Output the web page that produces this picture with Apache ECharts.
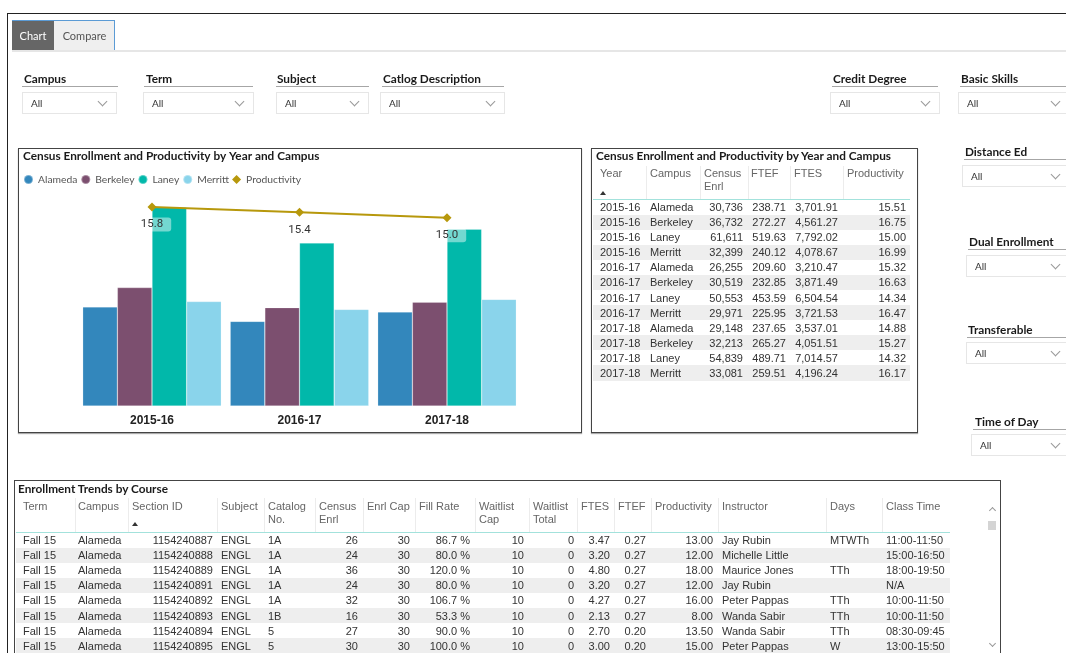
<!DOCTYPE html>
<html><head><meta charset="utf-8">
<script src="https://cdn.jsdelivr.net/npm/echarts@6/dist/echarts.min.js"></script>
<style>
html,body{margin:0;padding:0;background:#fff;width:1066px;height:653px;overflow:hidden;position:relative}
.a{position:absolute;white-space:nowrap;box-sizing:border-box}
#chart{position:absolute;left:0;top:0;width:1066px;height:653px;z-index:1}
#ui{position:absolute;left:0;top:0;width:1066px;height:653px;z-index:2;pointer-events:none}
</style></head><body>
<div id="chart"></div>
<div id="ui"></div>
<script>
// ---------- chart data ----------
const years = ['2015-16', '2016-17', '2017-18'];
const campuses = ['Alameda', 'Berkeley', 'Laney', 'Merritt'];
const alamedaEnrl = [30736, 26255, 29148];
const berkeleyEnrl = [36732, 30519, 32213];
const laneyEnrl = [61611, 50553, 54839];
const merrittEnrl = [32399, 29971, 33081];
const productivityByYear = [15.84, 15.43, 15.01];

// ---------- table 1 data (rows: year-major, campus-minor) ----------
const tableFTEF = [238.71, 272.27, 519.63, 240.12, 209.60, 232.85, 453.59, 225.95, 237.65, 265.27, 489.71, 259.51];
const tableFTES = [3701.91, 4561.27, 7792.02, 4078.67, 3210.47, 3871.49, 6504.54, 3721.53, 3537.01, 4051.51, 7014.57, 4196.24];
const tableProd = [15.51, 16.75, 15.00, 16.99, 15.32, 16.63, 14.34, 16.47, 14.88, 15.27, 14.32, 16.17];

// ---------- table 2 data ----------
const courseTerm = ['Fall 15', 'Fall 15', 'Fall 15', 'Fall 15', 'Fall 15', 'Fall 15', 'Fall 15', 'Fall 15'];
const courseCampus = ['Alameda', 'Alameda', 'Alameda', 'Alameda', 'Alameda', 'Alameda', 'Alameda', 'Alameda'];
const courseSection = ['1154240887', '1154240888', '1154240889', '1154240891', '1154240892', '1154240893', '1154240894', '1154240895'];
const courseSubject = ['ENGL', 'ENGL', 'ENGL', 'ENGL', 'ENGL', 'ENGL', 'ENGL', 'ENGL'];
const courseCatalog = ['1A', '1A', '1A', '1A', '1A', '1B', '5', '5'];
const courseCensus = [26, 24, 36, 24, 32, 16, 27, 30];
const courseCap = [30, 30, 30, 30, 30, 30, 30, 30];
const courseFill = ['86.7 %', '80.0 %', '120.0 %', '80.0 %', '106.7 %', '53.3 %', '90.0 %', '100.0 %'];
const courseWaitCap = [10, 10, 10, 10, 10, 10, 10, 10];
const courseWaitTotal = [0, 0, 0, 0, 0, 0, 0, 0];
const courseFTES = ['3.47', '3.20', '4.80', '3.20', '4.27', '2.13', '2.70', '3.00'];
const courseFTEF = ['0.27', '0.27', '0.27', '0.27', '0.27', '0.27', '0.20', '0.20'];
const courseProd = ['13.00', '12.00', '18.00', '12.00', '16.00', '8.00', '13.50', '15.00'];
const courseInstructor = ['Jay Rubin', 'Michelle Little', 'Maurice Jones', 'Jay Rubin', 'Peter Pappas', 'Wanda Sabir', 'Wanda Sabir', 'Peter Pappas'];
const courseDays = ['MTWTh', '', 'TTh', '', 'TTh', 'TTh', 'TTh', 'W'];
const courseTime = ['11:00-11:50', '15:00-16:50', '18:00-19:50', 'N/A', '10:00-11:50', '10:00-11:50', '08:30-09:45', '13:00-15:50'];

// ---------- slicers ----------
const slicerNames = ['Campus', 'Term', 'Subject', 'Catlog Description', 'Credit Degree', 'Basic Skills', 'Distance Ed', 'Dual Enrollment', 'Transferable', 'Time of Day'];

// ---------- helpers ----------
const ui = document.getElementById('ui');
function box(x, y, w, h, css) {
  const d = document.createElement('div'); d.className = 'a';
  Object.assign(d.style, { left: x + 'px', top: y + 'px', width: w + 'px', height: h + 'px' }, css || {});
  ui.appendChild(d); return d;
}
function txt(s, x, cy, css, align) {
  const d = document.createElement('div'); d.className = 'a'; d.textContent = s;
  const lh = 14;
  d.style.top = (cy - lh / 2) + 'px'; d.style.lineHeight = lh + 'px'; d.style.height = lh + 'px';
  if (align === 'r') { d.style.left = (x - 300) + 'px'; d.style.width = '300px'; d.style.textAlign = 'right'; }
  else if (align === 'c') { d.style.left = (x - 150) + 'px'; d.style.width = '300px'; d.style.textAlign = 'center'; }
  else d.style.left = x + 'px';
  Object.assign(d.style, css || {}); ui.appendChild(d); return d;
}
const F_BOLD = { fontFamily: 'Lato, "Open Sans", sans-serif', fontWeight: '700', fontSize: '11.8px', color: '#1a1a1a' };
const F_UI = { fontFamily: 'Lato, "Open Sans", sans-serif', fontSize: '10.5px', color: '#333' };
const F_CELL = { fontFamily: '"Liberation Sans", Arial, sans-serif', fontSize: '11px', color: '#333' };
const F_HEAD = Object.assign({}, F_CELL, { color: '#666' });

// page frame
box(7, 13, 1059, 1, { background: '#222' });
box(7, 13, 1, 640, { background: '#222' });
// tabs
box(12, 20, 42, 30, { background: '#666', borderTop: '1px solid #5b9bd5' });
txt('Chart', 33, 36, Object.assign({}, F_UI, { color: '#fff', fontSize: '11px' }), 'c');
box(54, 20, 61, 30, { background: '#efefef', borderTop: '1px solid #5b9bd5', borderRight: '1px solid #5b9bd5' });
txt('Compare', 84.5, 36, Object.assign({}, F_UI, { color: '#555', fontSize: '11px' }), 'c');
box(12, 50, 1054, 2, { background: '#e6e6e6' });

// slicers: header x, header cy, underline x1, x2, box x, box w, box y
const slicerLayout = [
  [24, 79, 22, 118, 22, 95, 92],
  [146, 79, 144, 253, 143, 111, 92],
  [277, 79, 276, 369, 276, 93, 92],
  [383, 79, 382, 504, 380, 125, 92],
  [833, 79, 832, 938, 830, 110, 92],
  [961, 79, 960, 1066, 958, 112, 92],
  [965, 152, 964, 1066, 962, 108, 165],
  [969, 242, 968, 1066, 966, 104, 255],
  [968, 330, 967, 1066, 966, 104, 342],
  [975, 422, 973, 1066, 971, 99, 434]
];
slicerNames.forEach((name, i) => {
  const [hx, hy, u1, u2, bx, bw, by] = slicerLayout[i];
  txt(name, hx, hy, F_BOLD);
  box(u1, hy + 7, u2 - u1, 1, { background: '#a6a6a6' });
  box(bx, by, bw, 22, { border: '1px solid #e6e6e6', background: '#fff' });
  txt('All', bx + 9, by + 11, Object.assign({}, F_UI, { fontSize: '10px' }));
  box(bx + bw - 18, by + 6, 7, 7, { borderRight: '1px solid #999', borderBottom: '1px solid #999', transform: 'rotate(45deg)' });
});

// chart frame
box(18, 148, 564, 285, { border: '1px solid #444', boxShadow: '0 1px 1px #aaa' });

// ---------- table 1 ----------
box(591, 148, 327, 285, { border: '1px solid #444', boxShadow: '0 1px 1px #aaa' });
txt('Census Enrollment and Productivity by Year and Campus', 596, 156, F_BOLD);
const t1cols = [ // header x, value x, align, column separator right edge
  ['Year', 600, 600, 'l', 646],
  ['Campus', 650, 650, 'l', 700],
  ['Census\nEnrl', 704, 743, 'r', 748],
  ['FTEF', 751, 786, 'r', 790],
  ['FTES', 794, 838, 'r', 843],
  ['Productivity', 847, 906, 'r', 910]
];
const t1top = 199.5, rh1 = 15.09;
for (let r = 0; r < 12; r++) if (r % 2 === 1) box(593, t1top + r * rh1, 317, rh1, { background: '#eeeeee' });
t1cols.forEach((c, i) => {
  const lines = c[0].split('\n');
  lines.forEach((l, k) => txt(l, c[1], 173 + k * 13, F_HEAD));
  if (i < t1cols.length - 1) box(c[4], 166, 1, 33, { background: '#ececec' });
});
box(600, 191, 0, 0, { borderLeft: '3px solid transparent', borderRight: '3px solid transparent', borderBottom: '4px solid #333' });
box(593, 199, 317, 1, { background: '#a3e2dc' });
const enrlByCampus = [alamedaEnrl, berkeleyEnrl, laneyEnrl, merrittEnrl];
const fmt2 = v => v.toLocaleString('en-US', { minimumFractionDigits: 2, maximumFractionDigits: 2 });
for (let y = 0; y < years.length; y++) {
  for (let c = 0; c < campuses.length; c++) {
    const r = y * 4 + c;
    const cy = t1top + r * rh1 + rh1 / 2;
    const vals = [years[y], campuses[c], enrlByCampus[c][y].toLocaleString('en-US'), fmt2(tableFTEF[r]), fmt2(tableFTES[r]), fmt2(tableProd[r])];
    vals.forEach((v, i) => txt(v, t1cols[i][2], cy, F_CELL, t1cols[i][3]));
  }
}

// ---------- table 2 ----------
box(14, 480, 987, 200, { border: '1px solid #444' });
txt('Enrollment Trends by Course', 18, 489, F_BOLD);
const t2cols = [ // header, header x, value x, align, separator x (right)
  ['Term', 23, 23, 'l', 75, courseTerm],
  ['Campus', 78, 78, 'l', 128, courseCampus],
  ['Section ID', 132, 213, 'r', 217, courseSection],
  ['Subject', 221, 221, 'l', 264, courseSubject],
  ['Catalog\nNo.', 268, 268, 'l', 315, courseCatalog],
  ['Census\nEnrl', 319, 358, 'r', 363, courseCensus],
  ['Enrl Cap', 367, 410, 'r', 415, courseCap],
  ['Fill Rate', 419, 470, 'r', 475, courseFill],
  ['Waitlist\nCap', 479, 524, 'r', 529, courseWaitCap],
  ['Waitlist\nTotal', 533, 574, 'r', 577, courseWaitTotal],
  ['FTES', 581, 610, 'r', 614, courseFTES],
  ['FTEF', 618, 646, 'r', 651, courseFTEF],
  ['Productivity', 655, 713, 'r', 718, courseProd],
  ['Instructor', 722, 722, 'l', 826, courseInstructor],
  ['Days', 830, 830, 'l', 882, courseDays],
  ['Class Time', 886, 886, 'l', 950, courseTime]
];
const t2top = 532.5, rh2 = 15.1;
for (let r = 0; r < 8; r++) if (r % 2 === 1) box(16, t2top + r * rh2, 934, rh2, { background: '#eeeeee' });
t2cols.forEach((c, i) => {
  c[0].split('\n').forEach((l, k) => txt(l, c[1], 506 + k * 13, F_HEAD));
  if (i < t2cols.length - 1) box(c[4], 498, 1, 34, { background: '#ececec' });
  c[5].forEach((v, r) => txt(String(v), c[2], t2top + r * rh2 + rh2 / 2, F_CELL, c[3]));
});
box(132, 522, 0, 0, { borderLeft: '3px solid transparent', borderRight: '3px solid transparent', borderBottom: '4px solid #333' });
box(16, 532, 934, 1, { background: '#a3e2dc' });
// scrollbar
box(990, 508, 5, 5, { borderLeft: '1px solid #999', borderTop: '1px solid #999', transform: 'rotate(45deg)' });
box(988, 521, 8, 9, { background: '#d4d4d4' });
box(990, 641, 5, 5, { borderRight: '1px solid #999', borderBottom: '1px solid #999', transform: 'rotate(45deg)' });

// ---------- ECharts ----------
const colors = ['#3387BC', '#7C4F6F', '#01B8AA', '#8AD4EB', '#B7980C'];
const chart = echarts.init(document.getElementById('chart'), null, { renderer: 'canvas' });
const barSeries = [alamedaEnrl, berkeleyEnrl, laneyEnrl, merrittEnrl].map((d, i) => ({
  name: campuses[i], type: 'bar', data: d, barGap: '0%', barCategoryGap: '6%',
  itemStyle: { color: colors[i], borderColor: 'rgba(255,255,255,0.35)', borderWidth: 0.6 },
  emphasis: { disabled: true }
}));
chart.setOption({
  animation: false,
  title: {
    text: 'Census Enrollment and Productivity by Year and Campus', left: 23, top: 150, padding: 0,
    textStyle: { fontFamily: 'Lato', fontWeight: 'bold', fontSize: 11.8, color: '#1a1a1a' }
  },
  legend: {
    left: 23, top: 174, padding: 0, itemWidth: 9, itemHeight: 9, itemGap: 3,
    textStyle: { fontFamily: 'Lato', fontSize: 10.3, color: '#555' },
    data: [
      { name: 'Alameda', icon: 'circle' }, { name: 'Berkeley', icon: 'circle' },
      { name: 'Laney', icon: 'circle' }, { name: 'Merritt', icon: 'circle' },
      { name: 'Productivity', icon: 'diamond' }
    ]
  },
  grid: { left: 78.25, right: 545.25, top: 180.3, bottom: 247, containLabel: false },
  xAxis: {
    type: 'category', data: years,
    axisLine: { show: false }, axisTick: { show: false },
    axisLabel: { fontFamily: '"Liberation Sans", Arial', fontWeight: 'bold', fontSize: 12, color: '#222', margin: 9 }
  },
  yAxis: [
    { type: 'value', min: 0, max: 70000, show: false, splitLine: { show: false } },
    { type: 'value', min: 0.41, max: 17.91, show: false, splitLine: { show: false } }
  ],
  series: barSeries.concat([{
    name: 'Productivity', type: 'line', yAxisIndex: 1, data: productivityByYear, z: 10,
    symbol: 'diamond', symbolSize: 9,
    lineStyle: { color: colors[4], width: 2 }, itemStyle: { color: colors[4] },
    label: {
      show: true, position: 'bottom', distance: 6,
      formatter: p => p.value.toFixed(1),
      fontFamily: 'Roboto', fontSize: 11.5, color: '#333',
      backgroundColor: 'rgba(255,255,255,0.45)', borderRadius: 3, padding: [1, 8, 1, 8]
    },
    emphasis: { disabled: true }
  }])
});
</script></body></html>
